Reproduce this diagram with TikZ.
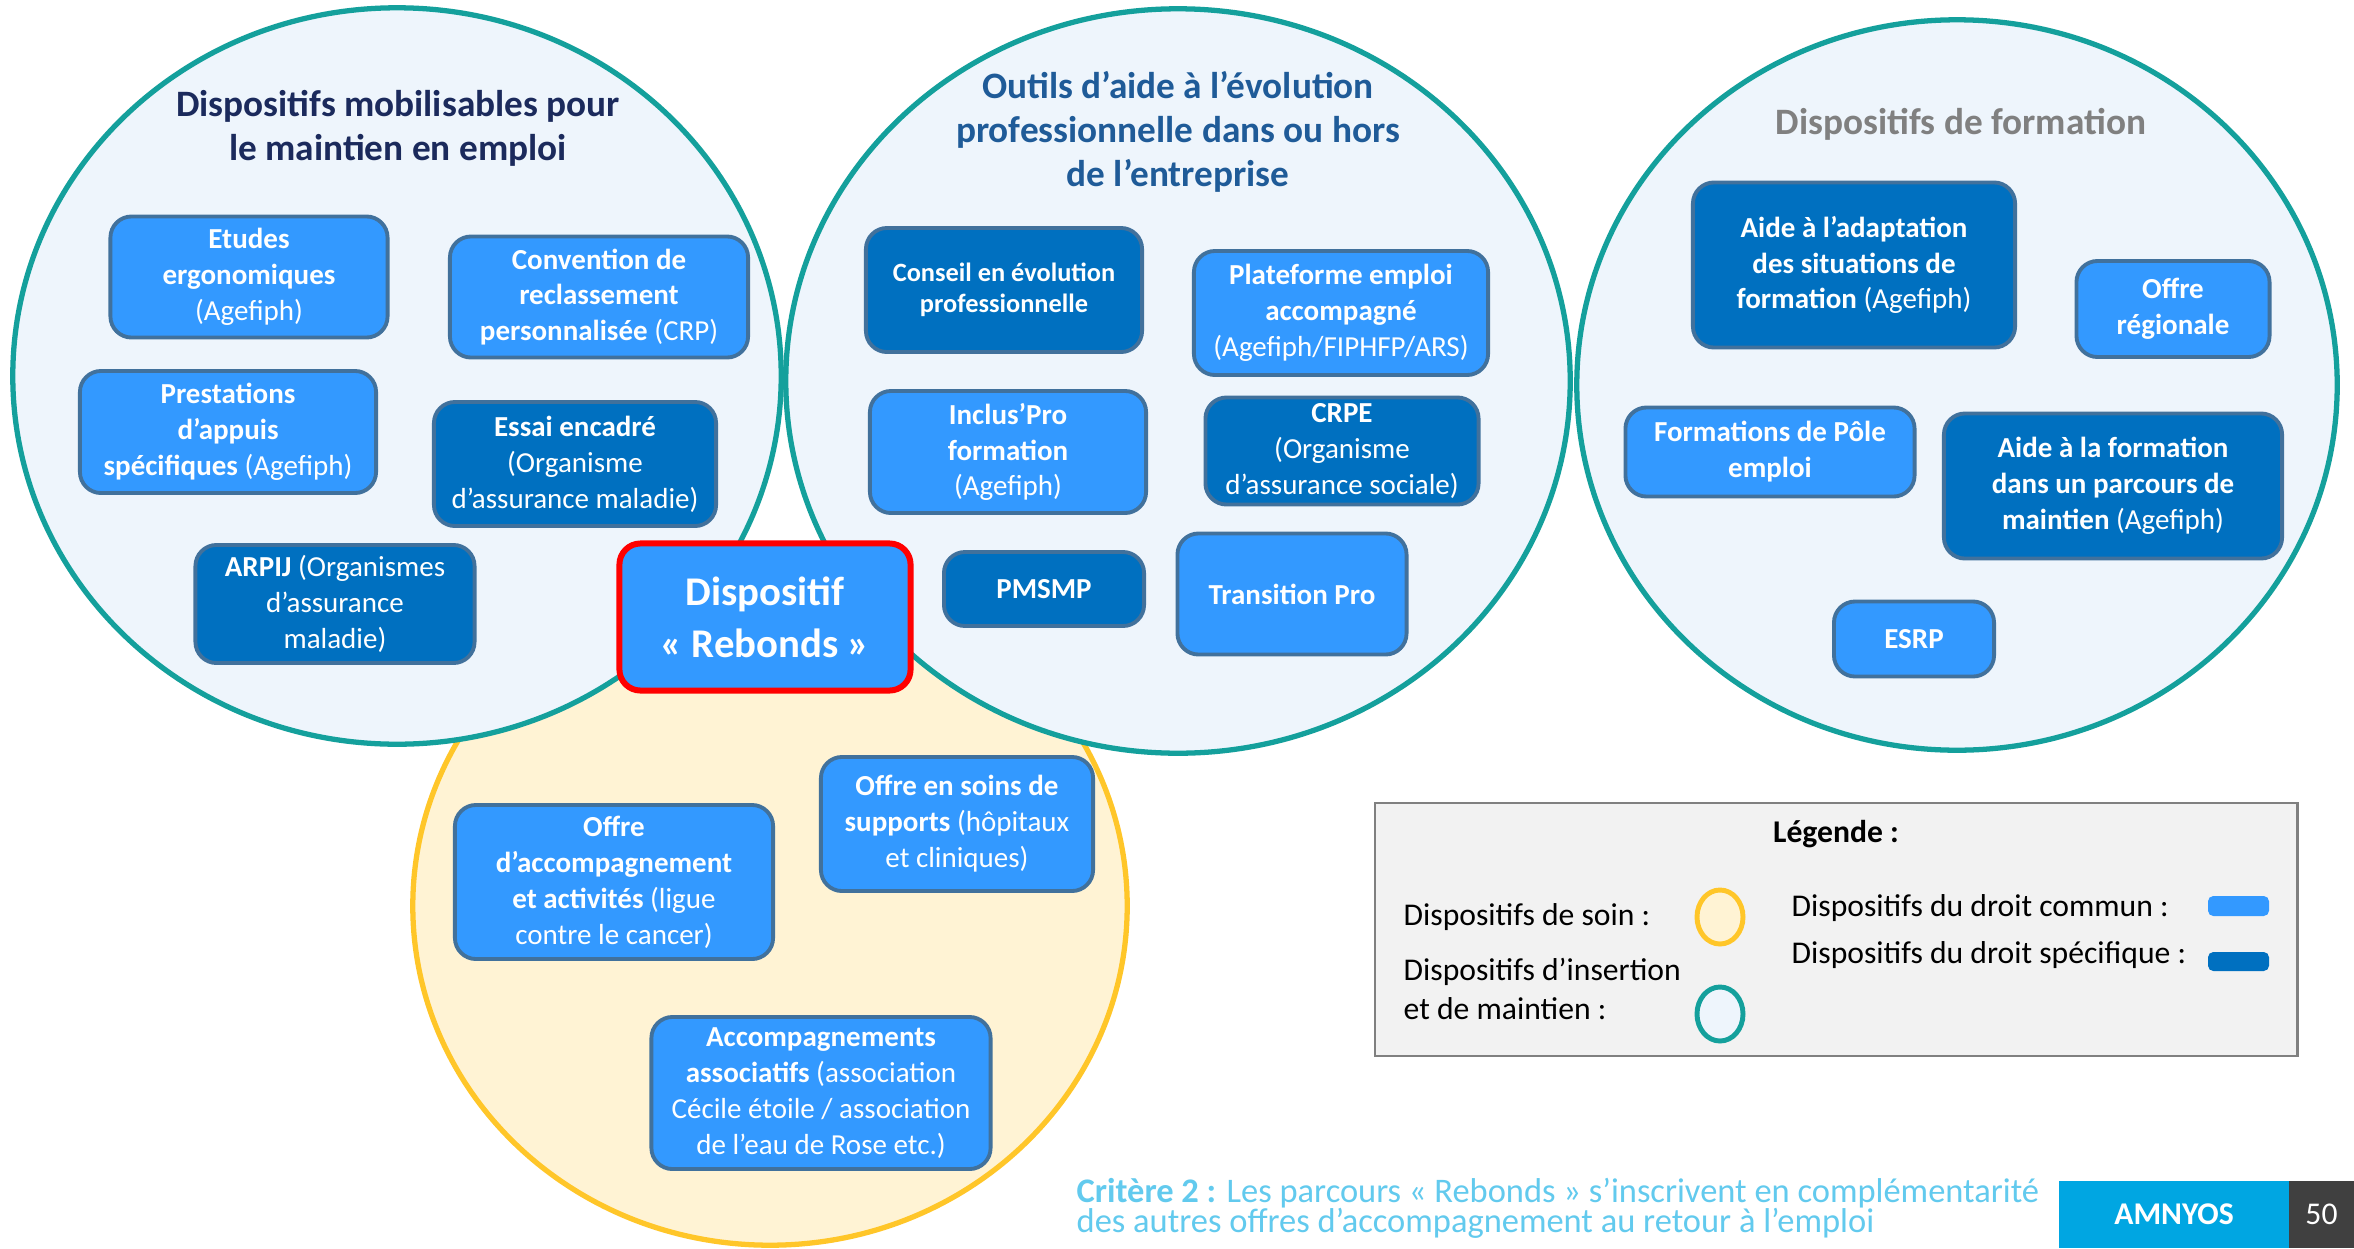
\documentclass[tikz,border=0pt]{standalone}
\usepackage{fontspec}
\setmainfont{Carlito}
\definecolor{teal1}{HTML}{14A09C}
\definecolor{circfill}{HTML}{EEF5FC}
\definecolor{yel}{HTML}{FFC629}
\definecolor{yelfill}{HTML}{FFF3D4}
\definecolor{lightb}{HTML}{3399FF}
\definecolor{darkb}{HTML}{0070C0}
\definecolor{boxborder}{HTML}{41719C}
\definecolor{navy}{HTML}{1B2A5C}
\definecolor{midblue}{HTML}{1F5B98}
\definecolor{titlegray}{HTML}{808080}
\definecolor{footc}{HTML}{62CAEE}
\definecolor{amny}{HTML}{00A6E2}
\definecolor{pgnum}{HTML}{404040}
\definecolor{legfill}{HTML}{F2F2F2}
\definecolor{legborder}{HTML}{808080}
\begin{document}
\begin{tikzpicture}[x=0.01cm,y=-0.01cm,
  circ/.style={draw=teal1, fill=circfill, line width=1.5pt},
  ycirc/.style={draw=yel, fill=yelfill, line width=1.5pt},
  boxbase/.style={draw=boxborder, line width=1.1pt, rounded corners=6pt, text=white, align=center, inner sep=0pt, font=\fontsize{8.25}{10.2}\selectfont},
  lbox/.style={boxbase, fill=lightb},
  dbox/.style={boxbase, fill=darkb},
  title/.style={align=center, font=\bfseries\fontsize{10.6}{12.5}\selectfont, inner sep=0pt},
  legtext/.style={font=\fontsize{9}{11}\selectfont, inner sep=0pt, align=left},
  foottext/.style={font=\fontsize{9.8}{8.5}\selectfont, text=footc, inner sep=0pt, align=left}
]
\useasboundingbox (0,0) rectangle (2354,1248);
\fill[white] (0,0) rectangle (2354,1248);

% circles
\draw[ycirc] (770,906) ellipse [x radius=3.57cm, y radius=3.39cm];
\draw[circ] (397,376) ellipse [x radius=3.84cm, y radius=3.68cm];
\draw[circ] (1178,381) ellipse [x radius=3.92cm, y radius=3.72cm];
\draw[circ] (1957,385) ellipse [x radius=3.80cm, y radius=3.65cm];

% titles
\node[title, text=navy] (t1) at (398,128) {Dispositifs mobilisables pour\\le maintien en emploi};
\node[title, text=midblue] (t2) at (1178,132) {Outils d’aide à l’évolution\\professionnelle dans ou hors\\de l’entreprise};
\node[title, text=titlegray, anchor=base] (t3) at (1961,134) {Dispositifs de formation};

% left circle boxes
\node[lbox, minimum width=2.77cm, minimum height=1.21cm] (etudes) at (249,277) {\textbf{Etudes}\\\textbf{ergonomiques}\\(Agefiph)};
\node[lbox, minimum width=2.98cm, minimum height=1.21cm] (crp) at (599,297) {\textbf{Convention de}\\\textbf{reclassement}\\\textbf{personnalisée} (CRP)};
\node[lbox, minimum width=2.96cm, minimum height=1.22cm] (presta) at (228,432) {\textbf{Prestations}\\\textbf{d’appuis}\\\textbf{spécifiques} (Agefiph)};
\node[dbox, minimum width=2.82cm, minimum height=1.24cm] (essai) at (575,464) {\textbf{Essai encadré}\\(Organisme\\d’assurance maladie)};
\node[dbox, minimum width=2.79cm, minimum height=1.18cm] (arpij) at (335,604) {\textbf{ARPIJ} (Organismes\\d’assurance\\maladie)};

% middle circle boxes
\node[dbox, minimum width=2.76cm, minimum height=1.24cm, font=\fontsize{7.5}{8.8}\selectfont] (conseil) at (1004,290) {\textbf{Conseil en évolution}\\\textbf{professionnelle}};
\node[lbox, minimum width=2.94cm, minimum height=1.24cm] (plateforme) at (1341,313) {\textbf{Plateforme emploi}\\\textbf{accompagné}\\(Agefiph/FIPHFP/ARS)};
\node[lbox, minimum width=2.76cm, minimum height=1.22cm] (inclus) at (1008,452) {\textbf{Inclus’Pro}\\\textbf{formation}\\(Agefiph)};
\node[dbox, minimum width=2.73cm, minimum height=1.07cm] (crpe) at (1342,451) {\textbf{CRPE}\\(Organisme\\d’assurance sociale)};
\node[dbox, minimum width=2.00cm, minimum height=0.74cm] (pmsmp) at (1044,589) {\textbf{PMSMP}};
\node[lbox, minimum width=2.29cm, minimum height=1.21cm] (transition) at (1292,594) {\textbf{Transition Pro}};

% right circle boxes
\node[dbox, minimum width=3.22cm, minimum height=1.65cm] (adapt) at (1854,265) {\textbf{Aide à l’adaptation}\\\textbf{des situations de}\\\textbf{formation} (Agefiph)};
\node[lbox, minimum width=1.93cm, minimum height=0.96cm] (regionale) at (2173,309) {\textbf{Offre}\\\textbf{régionale}};
\node[lbox, minimum width=2.89cm, minimum height=0.89cm] (pole) at (1770,452) {\textbf{Formations de Pôle}\\\textbf{emploi}};
\node[dbox, minimum width=3.38cm, minimum height=1.45cm] (aideform) at (2113,486) {\textbf{Aide à la formation}\\\textbf{dans un parcours de}\\\textbf{maintien} (Agefiph)};
\node[lbox, minimum width=1.60cm, minimum height=0.75cm] (esrp) at (1914,639) {\textbf{ESRP}};

% yellow circle boxes
\node[lbox, minimum width=3.18cm, minimum height=1.54cm] (accomp) at (614,882) {\textbf{Offre}\\\textbf{d’accompagnement}\\\textbf{et activités} (ligue\\contre le cancer)};
\node[lbox, minimum width=2.72cm, minimum height=1.34cm] (soins) at (957,824) {\textbf{Offre en soins de}\\\textbf{supports} (hôpitaux\\et cliniques)};
\node[lbox, minimum width=3.39cm, minimum height=1.52cm] (assoc) at (821,1093) {\textbf{Accompagnements}\\\textbf{associatifs} (association\\Cécile étoile / association\\de l’eau de Rose etc.)};

% central box
\node[boxbase, fill=lightb, draw=red, line width=1.7pt, minimum width=2.91cm, minimum height=1.47cm, font=\bfseries\fontsize{11.6}{14.8}\selectfont] (rebonds) at (765,617) {Dispositif\\« Rebonds »};

% legend
\node[draw=legborder, fill=legfill, line width=0.7pt, minimum width=9.22cm, minimum height=2.53cm, inner sep=0pt] (legend) at (1836,929.5) {};
\node[legtext, font=\bfseries\fontsize{9}{11}\selectfont, anchor=base] (legtitle) at (1836,842) {Légende :};
\node[legtext, anchor=base west] (lsoin) at (1403,925) {Dispositifs de soin :};
\node[legtext, anchor=base west] (linsert) at (1403,1019) {Dispositifs d’insertion\\et de maintien :};
\draw[ycirc, line width=1.4pt] (1720,917) ellipse [x radius=0.23cm, y radius=0.27cm];
\draw[circ, line width=1.4pt] (1720,1014) ellipse [x radius=0.23cm, y radius=0.27cm];
\node[legtext, anchor=base west] (lcommun) at (1791,916) {Dispositifs du droit commun :};
\node[legtext, anchor=base west] (lspec) at (1791,963) {Dispositifs du droit spécifique :};
\fill[lightb, rounded corners=1.5pt] (2208,896) rectangle (2269,916);
\fill[darkb, rounded corners=1.5pt] (2208,952) rectangle (2269,971);

% footer
\node[foottext, anchor=base west] (foot) at (1076,1232) {\textbf{Critère 2 :} Les parcours « Rebonds » s’inscrivent en complémentarité\\des autres offres d’accompagnement au retour à l’emploi};
\node[fill=amny, minimum width=2.30cm, minimum height=0.67cm, inner sep=0pt, text=white, font=\bfseries\fontsize{9}{11}\selectfont] (amnyos) at (2174,1214.5) {AMNYOS};
\node[fill=pgnum, minimum width=0.65cm, minimum height=0.67cm, inner sep=0pt, text=white, font=\fontsize{9}{11}\selectfont] (page) at (2321.5,1214.5) {50};
\end{tikzpicture}
\end{document}
